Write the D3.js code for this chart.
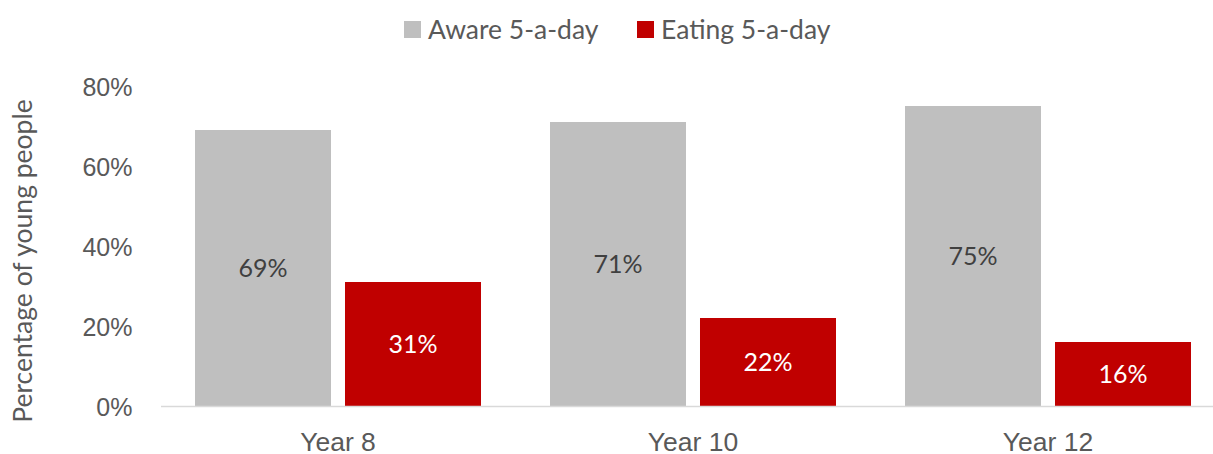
<!DOCTYPE html>
<html>
<head>
<meta charset="utf-8">
<script src="https://cdn.jsdelivr.net/npm/d3@7"></script>
<style>
  html, body { margin: 0; padding: 0; background: #fff; }
  svg { display: block; font-family: Lato, "Open Sans", sans-serif; }
</style>
</head>
<body>
<svg id="chart" width="1213" height="454"></svg>
<script>
// Share of young people aware of / eating five portions a day, by school year
const categories = ["Year 8", "Year 10", "Year 12"];
const seriesNames = ["Aware 5-a-day", "Eating 5-a-day"];
const aware = [69, 71, 75];
const eating = [31, 22, 16];
const yTicks = [0, 20, 40, 60, 80];

const colors = { "Aware 5-a-day": "#BFBFBF", "Eating 5-a-day": "#C00000" };
const labelColors = { "Aware 5-a-day": "#404040", "Eating 5-a-day": "#FFFFFF" };
const textColor = "#595959";
const wordSize = 26.5;
const numberSize = 25;

const svg = d3.select("#chart");
const plot = { left: 160.5, right: 1225.5, top: 86, bottom: 406 };

const x0 = d3.scaleBand().domain(categories).range([plot.left, plot.right]).paddingInner(0).paddingOuter(0);
const x1 = d3.scaleBand().domain(seriesNames).range([0, x0.bandwidth()]).paddingInner(0.0933).paddingOuter(0.23);
const y = d3.scaleLinear().domain([0, 80]).range([plot.bottom, plot.top]);

const rows = categories.map((c, i) => ({
  category: c,
  values: [
    { series: seriesNames[0], value: aware[i] },
    { series: seriesNames[1], value: eating[i] }
  ]
}));

// Bars
const groups = svg.append("g").selectAll("g").data(rows).join("g")
  .attr("transform", d => `translate(${x0(d.category)},0)`);

groups.selectAll("rect").data(d => d.values).join("rect")
  .attr("x", d => x1(d.series))
  .attr("y", d => y(d.value))
  .attr("width", x1.bandwidth())
  .attr("height", d => y(0) - y(d.value))
  .attr("fill", d => colors[d.series]);

// Value labels centred in each bar
groups.selectAll("text").data(d => d.values).join("text")
  .attr("x", d => x1(d.series) + x1.bandwidth() / 2)
  .attr("y", d => (y(d.value) + y(0)) / 2)
  .attr("dy", "0.36em")
  .attr("text-anchor", "middle")
  .attr("font-size", numberSize)
  .attr("fill", d => labelColors[d.series])
  .text(d => d.value + "%");

// X axis baseline and category labels
const xAxis = svg.append("g")
  .attr("transform", `translate(0,${y(0)})`)
  .call(d3.axisBottom(x0).tickSize(0).tickPadding(26));
xAxis.select(".domain").attr("stroke", "#D9D9D9").attr("stroke-width", 1.5);
xAxis.selectAll("text").attr("font-size", wordSize).attr("fill", textColor).attr("font-family", null);

// Y axis tick labels
const yAxis = svg.append("g")
  .attr("transform", `translate(${plot.left - 28},0)`)
  .call(d3.axisLeft(y).tickValues(yTicks).tickFormat(d => d + "%").tickSize(0).tickPadding(0));
yAxis.select(".domain").remove();
yAxis.selectAll("text").attr("font-size", numberSize).attr("fill", textColor).attr("font-family", null).attr("dy", "0.36em");

// Y axis title
svg.append("text")
  .attr("transform", `translate(32,${(plot.top + plot.bottom) / 2 + 15}) rotate(-90)`)
  .attr("text-anchor", "middle")
  .attr("font-size", wordSize)
  .attr("fill", textColor)
  .text("Percentage of young people");

// Legend
const legendItems = [
  { name: seriesNames[0], x: 404 },
  { name: seriesNames[1], x: 637 }
];
const legend = svg.append("g").selectAll("g").data(legendItems).join("g")
  .attr("transform", d => `translate(${d.x},21)`);
legend.append("rect").attr("width", 17).attr("height", 17).attr("fill", d => colors[d.name]);
legend.append("text")
  .attr("x", 24).attr("y", 8.5).attr("dy", "0.36em")
  .attr("font-size", wordSize).attr("fill", textColor)
  .text(d => d.name);
</script>
</body>
</html>
